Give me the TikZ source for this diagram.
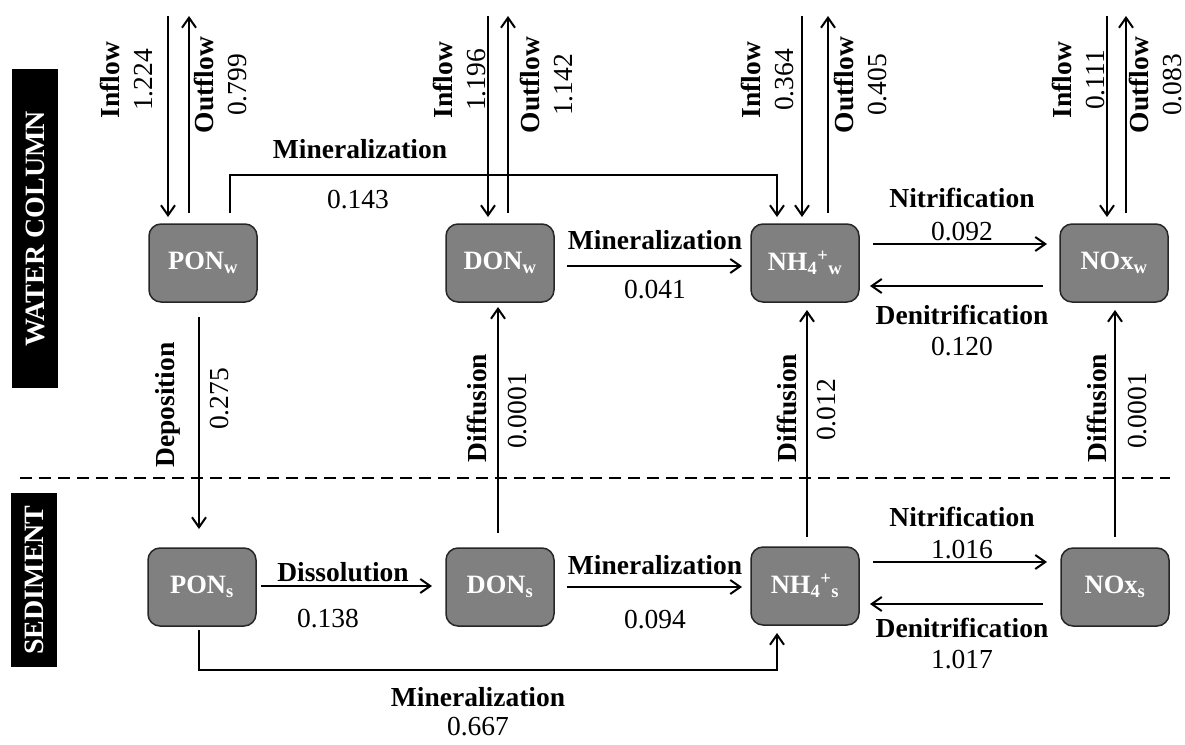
\documentclass[tikz,border=0pt]{standalone}
\usepackage{fontspec}
\setmainfont{Liberation Serif}
\usetikzlibrary{arrows.meta}
\definecolor{boxgray}{RGB}{128,128,128}
\begin{document}
\begin{tikzpicture}[x=1pt,y=-1pt,
  box/.style={draw=black!85, line width=1.5pt, fill=boxgray, rounded corners=12pt,
    minimum width=108pt, minimum height=78pt, text=white, inner sep=0pt,
    font=\fontsize{26.5}{30}\selectfont\bfseries},
  arr/.style={line width=2pt, -{Straight Barb[length=10pt,width=14pt]}},
  lbl/.style={font=\fontsize{27.5}{33}\selectfont\bfseries, inner sep=0pt},
  val/.style={font=\fontsize{27.5}{33}\selectfont, inner sep=0pt},
  flow/.style={font=\fontsize{27.5}{33}\selectfont, inner sep=0pt, align=center, rotate=90},
  rlbl/.style={lbl, rotate=90},
  rval/.style={val, rotate=90},
  side/.style={fill=black, text=white, font=\fontsize{28}{32}\selectfont\bfseries,
    inner sep=0pt, rotate=90, minimum height=46pt}]
\useasboundingbox (0,0) rectangle (1185,744);

% side labels
\node[side, minimum width=319pt] (wc) at (35,228.5) {WATER COLUMN};
\node[side, minimum width=174pt] (sd) at (34,580) {SEDIMENT};

% dashed separator
\coordinate (dl) at (20,478);
\coordinate (dr) at (1170,478);
\draw[line width=2pt, dash pattern=on 12pt off 7pt] (dl) -- (dr);

% compartments
\node[box] (ponw) at (203,263) {PON\textsubscript{w}};
\node[box] (donw) at (500,263) {DON\textsubscript{w}};
\node[box] (nhw)  at (805,263) {NH\textsubscript{4}\textsuperscript{+}\textsubscript{w}};
\node[box] (noxw) at (1114,263) {NOx\textsubscript{w}};
\node[box] (pons) at (202,587) {PON\textsubscript{s}};
\node[box] (dons) at (500,587) {DON\textsubscript{s}};
\node[box] (nhs)  at (805,586) {NH\textsubscript{4}\textsuperscript{+}\textsubscript{s}};
\node[box] (noxs) at (1115,587) {NOx\textsubscript{s}};

% inflow / outflow coordinates
\coordinate (pi0) at (168,16);  \coordinate (pi1) at (168,217);
\coordinate (po0) at (189,213); \coordinate (po1) at (189,16);
\coordinate (di0) at (488,16);  \coordinate (di1) at (488,217);
\coordinate (do0) at (508,213); \coordinate (do1) at (508,16);
\coordinate (ni0) at (802,16);  \coordinate (ni1) at (802,217);
\coordinate (no0) at (828,213); \coordinate (no1) at (828,16);
\coordinate (xi0) at (1107,16); \coordinate (xi1) at (1107,217);
\coordinate (xo0) at (1126,213);\coordinate (xo1) at (1126,16);
\draw[arr] (pi0) -- (pi1);
\draw[arr] (po0) -- (po1);
\draw[arr] (di0) -- (di1);
\draw[arr] (do0) -- (do1);
\draw[arr] (ni0) -- (ni1);
\draw[arr] (no0) -- (no1);
\draw[arr] (xi0) -- (xi1);
\draw[arr] (xo0) -- (xo1);

\node[flow] (fl1) at (127,80) {\textbf{Inflow}\\1.224};
\node[flow] (fl2) at (221,85) {\textbf{Outflow}\\0.799};
\node[flow] (fl3) at (460,80) {\textbf{Inflow}\\1.196};
\node[flow] (fl4) at (547,85) {\textbf{Outflow}\\1.142};
\node[flow] (fl5) at (768,80) {\textbf{Inflow}\\0.364};
\node[flow] (fl6) at (861,85) {\textbf{Outflow}\\0.405};
\node[flow] (fl7) at (1078,80) {\textbf{Inflow}\\0.111};
\node[flow] (fl8) at (1155,85) {\textbf{Outflow}\\0.083};

% PONw -> NH4w mineralization (top)
\coordinate (m1a) at (230,213);
\coordinate (m1b) at (230,175);
\coordinate (m1c) at (777,175);
\coordinate (m1d) at (777,217);
\draw[arr] (m1a) -- (m1b) -- (m1c) -- (m1d);
\node[lbl] (m1l) at (360,149) {Mineralization};
\node[val] (m1v) at (358,200) {0.143};

% DONw -> NH4w
\coordinate (m2a) at (567,266); \coordinate (m2b) at (742,266);
\draw[arr] (m2a) -- (m2b);
\node[lbl] (m2l) at (655,240) {Mineralization};
\node[val] (m2v) at (655,290) {0.041};

% nitrification / denitrification water
\coordinate (n1a) at (873,244); \coordinate (n1b) at (1047,244);
\draw[arr] (n1a) -- (n1b);
\node[lbl] (n1l) at (962,198) {Nitrification};
\node[val] (n1v) at (962,232) {0.092};
\coordinate (d1a) at (1043,286); \coordinate (d1b) at (870,286);
\draw[arr] (d1a) -- (d1b);
\node[lbl] (d1l) at (962,315) {Denitrification};
\node[val] (d1v) at (962,347) {0.120};

% deposition
\coordinate (dpa) at (199,317); \coordinate (dpb) at (199,529);
\draw[arr] (dpa) -- (dpb);
\node[rlbl] (dpl) at (168,405) {Deposition};
\node[rval] (dpv) at (220,399) {0.275};

% diffusion
\coordinate (f1a) at (498,533); \coordinate (f1b) at (498,307);
\draw[arr] (f1a) -- (f1b);
\node[rlbl] (f1l) at (477,408) {Diffusion};
\node[rval] (f1v) at (518,411) {0.0001};
\coordinate (f2a) at (807,537); \coordinate (f2b) at (807,310);
\draw[arr] (f2a) -- (f2b);
\node[rlbl] (f2l) at (787,408) {Diffusion};
\node[rval] (f2v) at (827,410) {0.012};
\coordinate (f3a) at (1115,537); \coordinate (f3b) at (1115,310);
\draw[arr] (f3a) -- (f3b);
\node[rlbl] (f3l) at (1097,408) {Diffusion};
\node[rval] (f3v) at (1138,411) {0.0001};

% sediment: dissolution
\coordinate (sda) at (261,586); \coordinate (sdb) at (432,586);
\draw[arr] (sda) -- (sdb);
\node[lbl] (sdl) at (343,572) {Dissolution};
\node[val] (sdv) at (328,619) {0.138};

% DONs -> NH4s
\coordinate (m3a) at (567,587); \coordinate (m3b) at (742,587);
\draw[arr] (m3a) -- (m3b);
\node[lbl] (m3l) at (655,565) {Mineralization};
\node[val] (m3v) at (655,620) {0.094};

% nitrification / denitrification sediment
\coordinate (n2a) at (873,562); \coordinate (n2b) at (1047,562);
\draw[arr] (n2a) -- (n2b);
\node[lbl] (n2l) at (962,517) {Nitrification};
\node[val] (n2v) at (962,550) {1.016};
\coordinate (d2a) at (1043,604); \coordinate (d2b) at (870,604);
\draw[arr] (d2a) -- (d2b);
\node[lbl] (d2l) at (962,628) {Denitrification};
\node[val] (d2v) at (962,660) {1.017};

% PONs -> NH4s mineralization (bottom)
\coordinate (m4a) at (199,630);
\coordinate (m4b) at (199,670);
\coordinate (m4c) at (777,670);
\coordinate (m4d) at (777,633);
\draw[arr] (m4a) -- (m4b) -- (m4c) -- (m4d);
\node[lbl] (m4l) at (478,697) {Mineralization};
\node[val] (m4v) at (478,727) {0.667};
\end{tikzpicture}
\end{document}
